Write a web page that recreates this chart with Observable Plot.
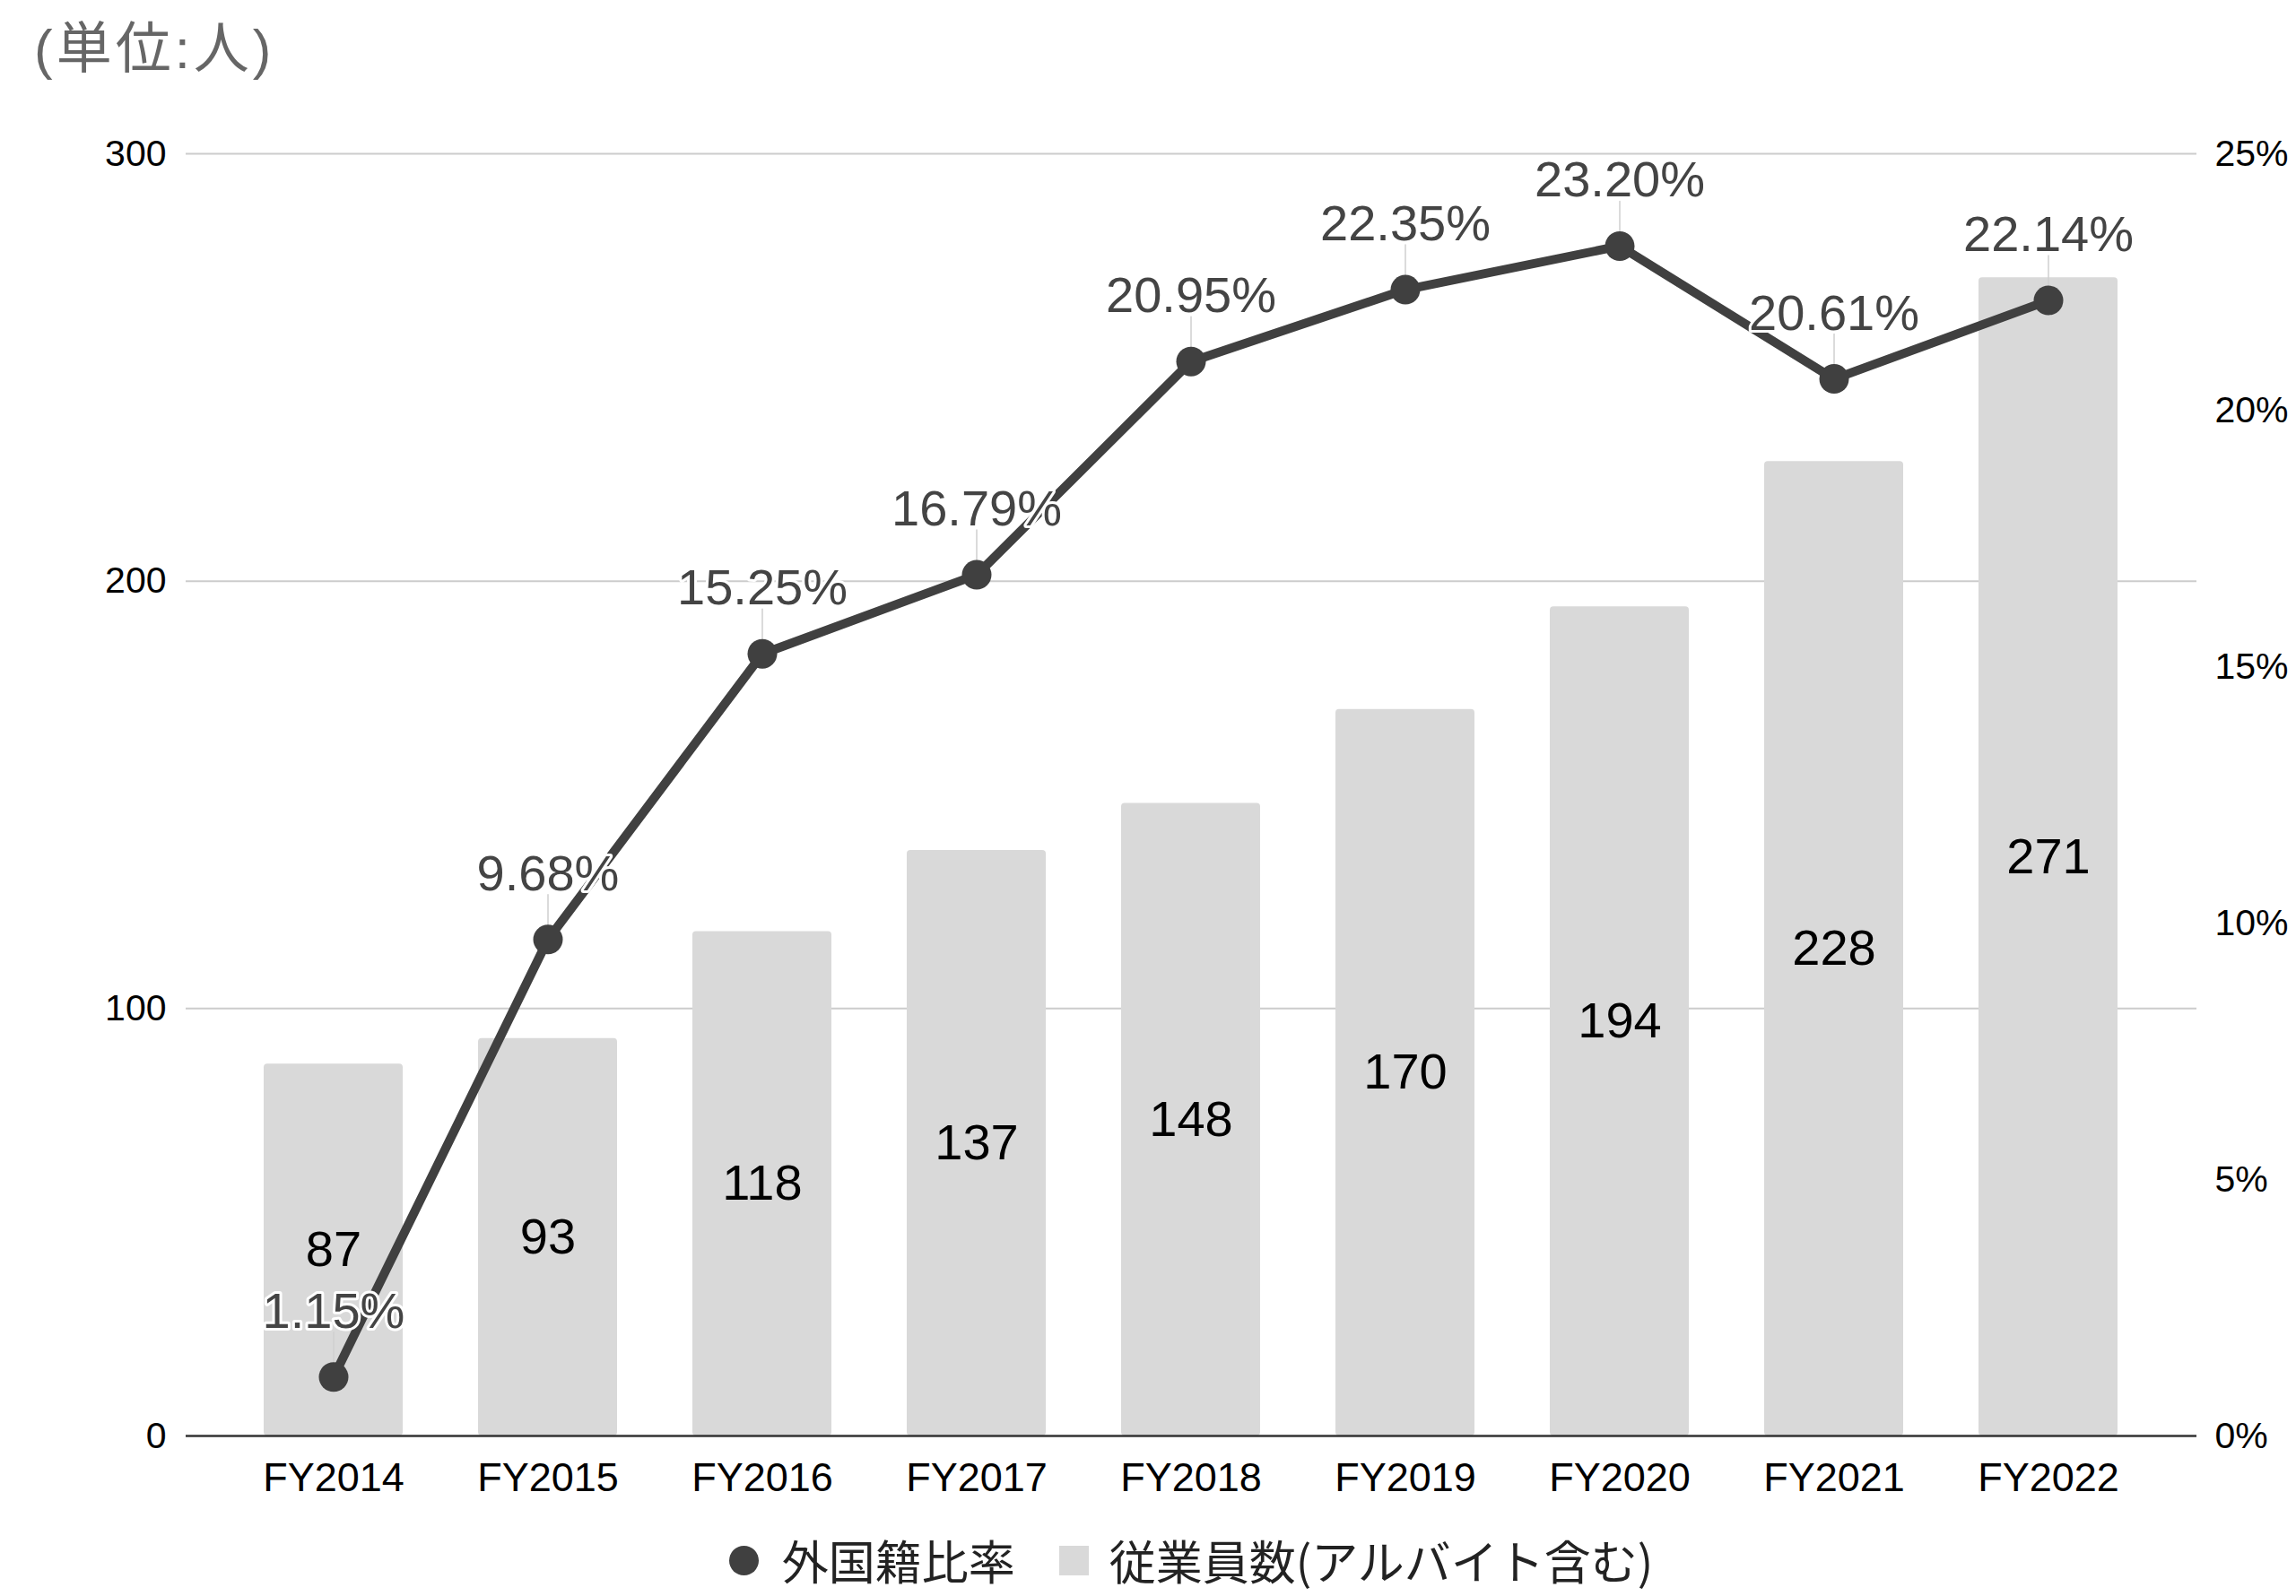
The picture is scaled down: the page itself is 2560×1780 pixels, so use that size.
<!DOCTYPE html>
<html>
<head>
<meta charset="utf-8">
<script src="https://cdn.jsdelivr.net/npm/d3@7"></script>
<script src="https://cdn.jsdelivr.net/npm/@observablehq/plot@0.6"></script>
<style>
  html, body { margin: 0; padding: 0; background: #fff; }
  body { width: 2560px; height: 1780px; overflow: hidden; font-family: "Liberation Sans", Arial, "Noto Sans CJK JP", sans-serif; }
  #title { height: 110px; line-height: 110px; padding-left: 38px; font-size: 62px; letter-spacing: 4px; color: #666; font-family: "Liberation Sans", "Noto Sans CJK JP", sans-serif; }
  #legend { height: 52px; padding-top: 24px; display: flex; align-items: center; justify-content: center; font-family: "Noto Sans CJK JP", sans-serif; font-size: 52px; line-height: 52px; color: #222; padding-left: 96px; }
  #legend span { line-height: 52px; }
  .sw-dot { width: 33px; height: 33px; border-radius: 50%; background: #404040; margin-right: 26px; }
  .sw-sq { width: 33px; height: 33px; background: #d9d9d9; margin-right: 23px; margin-left: 49px; }
  #chart svg { display: block; }
</style>
</head>
<body>
<div id="title">(単位:人)</div>
<div id="chart"></div>
<div id="legend"><span class="sw-dot"></span><span>外国籍比率</span><span class="sw-sq"></span><span>従業員数(アルバイト含む)</span></div>
<script>
const years = ["FY2014","FY2015","FY2016","FY2017","FY2018","FY2019","FY2020","FY2021","FY2022"];
const employees = [87, 93, 118, 137, 148, 170, 194, 228, 271];
const foreignPct = [1.15, 9.68, 15.25, 16.79, 20.95, 22.35, 23.20, 20.61, 22.14];
const countTicks = [0, 100, 200, 300];
const pctTicks = [0, 5, 10, 15, 20, 25];
const countMax = 300;
const pctMax = 25;
const k = countMax / pctMax; // secondary axis alignment

const rows = years.map((year, i) => ({year, emp: employees[i], pct: foreignPct[i]}));
const fmtPct = d3.format(".2f");

const chart = Plot.plot({
  width: 2560,
  height: 1580,
  marginTop: 61,
  marginBottom: 89,
  marginLeft: 207,
  marginRight: 111,
  style: {fontFamily: "'Liberation Sans', Arial, sans-serif", color: "#000", background: "#fff"},
  x: {type: "band", domain: years, padding: 0.35, label: null},
  y: {domain: [0, countMax], label: null},
  marks: [
    Plot.ruleY(countTicks.filter(d => d > 0), {stroke: "#cccccc", strokeWidth: 2}),
    Plot.barY(rows, {x: "year", y: "emp", fill: "#d9d9d9", rx: 4}),
    Plot.ruleY([0], {stroke: "#333", strokeWidth: 2.5}),
    Plot.text(rows, {x: "year", y: d => d.emp / 2, text: d => String(d.emp), fontSize: 56, fill: "#000"}),
    Plot.vector(rows, {x: "year", y: d => d.pct * k, length: 50, rotate: 0, anchor: "start", r: 0, stroke: "#cfcfcf", strokeWidth: 1.5}),
    Plot.line(rows, {x: "year", y: d => d.pct * k, stroke: "#404040", strokeWidth: 10, strokeLinejoin: "round"}),
    Plot.dot(rows, {x: "year", y: d => d.pct * k, r: 16.5, fill: "#404040"}),
    Plot.text(rows, {x: "year", y: d => d.pct * k, dy: -73, text: d => fmtPct(d.pct) + "%", fontSize: 56, fill: "#444", stroke: "white", strokeWidth: 6, paintOrder: "stroke"}),
    Plot.axisX({tickSize: 0, tickPadding: 30, fontSize: 45, label: null}),
    Plot.axisY(countTicks, {anchor: "left", tickSize: 0, tickPadding: 22, fontSize: 41, label: null}),
    Plot.axisY(pctTicks.map(d => d * k), {anchor: "right", tickSize: 0, tickPadding: 20, fontSize: 41, label: null, tickFormat: d => Math.round(d / k) + "%"})
  ]
});
document.getElementById("chart").appendChild(chart);
</script>
</body>
</html>
